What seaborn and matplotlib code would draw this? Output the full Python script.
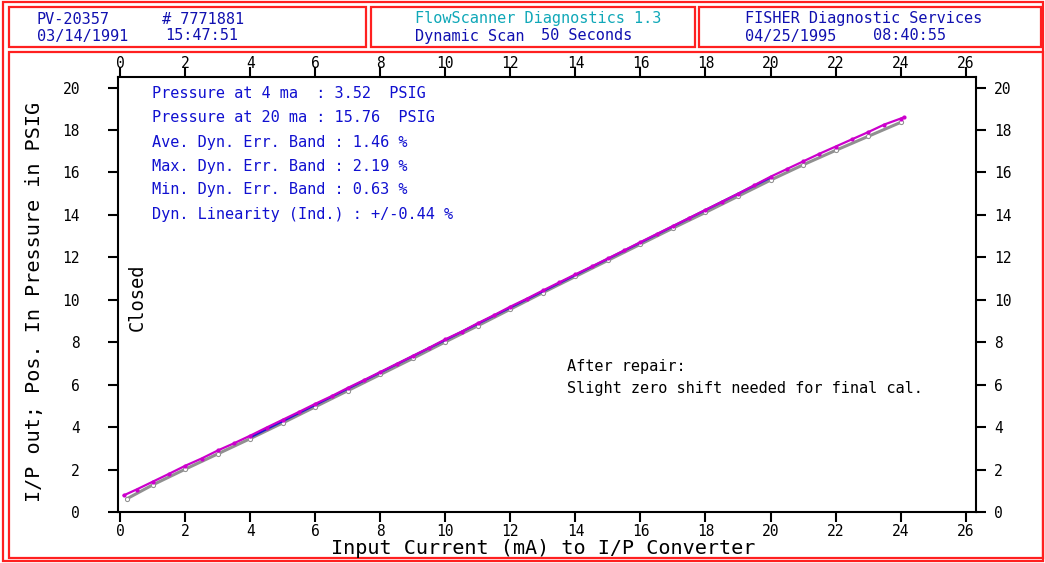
import matplotlib
matplotlib.use("Agg")
import matplotlib.pyplot as plt
import seaborn as sns
import pandas as pd
from matplotlib.patches import Rectangle
from matplotlib.transforms import ScaledTranslation

# increasing scan (magenta)
up_ma = [0.1, 0.5, 1.0, 1.5, 2.0, 2.5, 3.0, 3.5, 4.0, 4.5, 5.0, 5.5, 6.0, 6.5, 7.0, 7.5,
         8.0, 8.5, 9.0, 9.5, 10.0, 10.5, 11.0, 11.5, 12.0, 12.5, 13.0, 13.5, 14.0, 14.5,
         15.0, 15.5, 16.0, 16.5, 17.0, 17.5, 18.0, 18.5, 19.0, 19.5, 20.0, 20.5, 21.0,
         21.5, 22.0, 22.5, 23.0, 23.5, 24.0, 24.1]
up_psi = [0.78, 1.06, 1.43, 1.80, 2.18, 2.52, 2.90, 3.24, 3.60, 3.98, 4.35, 4.72, 5.10,
          5.46, 5.85, 6.22, 6.60, 6.98, 7.36, 7.74, 8.14, 8.50, 8.90, 9.28, 9.68, 10.05,
          10.44, 10.82, 11.20, 11.57, 11.95, 12.33, 12.72, 13.10, 13.48, 13.86, 14.24,
          14.62, 15.00, 15.40, 15.80, 16.16, 16.52, 16.88, 17.22, 17.56, 17.90, 18.26,
          18.54, 18.60]

# decreasing scan (gray)
down_ma = [0.2, 1.0, 2.0, 3.0, 4.0, 5.0, 6.0, 7.0, 8.0, 9.0, 10.0, 11.0, 12.0, 13.0,
           14.0, 15.0, 16.0, 17.0, 18.0, 19.0, 20.0, 21.0, 22.0, 23.0, 24.0]
down_psi = [0.62, 1.28, 2.02, 2.74, 3.46, 4.20, 4.96, 5.72, 6.48, 7.24, 8.02, 8.78, 9.56,
            10.34, 11.10, 11.86, 12.62, 13.38, 14.12, 14.88, 15.64, 16.36, 17.04, 17.70,
            18.36]

# calibration line 4-20 mA (blue)
cal_ma = [4.0, 20.0]
cal_psi = [3.52, 15.76]

stats = ["Pressure at 4 ma  : 3.52  PSIG",
         "Pressure at 20 ma : 15.76  PSIG",
         "Ave. Dyn. Err. Band : 1.46 %",
         "Max. Dyn. Err. Band : 2.19 %",
         "Min. Dyn. Err. Band : 0.63 %",
         "Dyn. Linearity (Ind.) : +/-0.44 %"]

sns.set_style("ticks")
plt.rcParams['font.family'] = ['DejaVu Sans Mono', 'DejaVu Sans']
plt.rcParams['text.color'] = 'black'

W, H = 1045, 563
fig = plt.figure(figsize=(W / 100, H / 100), dpi=100)

def px(x, y):
    return x / W, 1 - y / H

# red frames
for (x0, y0, x1, y1) in [(3, 2, 1043, 561), (9, 7, 366, 47), (371, 7, 695, 47),
                         (699, 7, 1041, 47), (9, 52, 1043, 558)]:
    fig.patches.append(Rectangle((x0 / W, 1 - y1 / H), (x1 - x0) / W, (y1 - y0) / H,
                                 transform=fig.transFigure, fill=False,
                                 edgecolor="#ff2020", linewidth=1.6))

# header text
hblue = "#1010b0"
hdr = [(37, 19, "PV-20357", hblue), (162, 19, "# 7771881", hblue),
       (37, 36, "03/14/1991", hblue), (165, 36, "15:47:51", hblue),
       (415, 19, "FlowScanner Diagnostics 1.3", "#10a8b8"),
       (415, 36, "Dynamic Scan", hblue), (541, 36, "50 Seconds", hblue),
       (745, 19, "FISHER Diagnostic Services", hblue),
       (745, 36, "04/25/1995", hblue), (873, 36, "08:40:55", hblue)]
for x, y, s, c in hdr:
    fig.text(*px(x, y), s, color=c, fontsize=11, ha="left", va="center")

ax = fig.add_axes([118 / W, 1 - 512 / H, (976 - 118) / W, (512 - 77) / H])

df_up = pd.DataFrame({"ma": up_ma, "psi": up_psi})
df_down = pd.DataFrame({"ma": down_ma, "psi": down_psi})
df_cal = pd.DataFrame({"ma": cal_ma, "psi": cal_psi})

sns.lineplot(data=df_down, x="ma", y="psi", ax=ax, color="#909090", linewidth=2.2,
             marker="o", markersize=3, markerfacecolor="white", markeredgecolor="#909090")
sns.lineplot(data=df_cal, x="ma", y="psi", ax=ax, color="#1a1ad0", linewidth=1.6)
sns.lineplot(data=df_up, x="ma", y="psi", ax=ax, color="#cc00cc", linewidth=1.6,
             marker="o", markersize=3, markeredgewidth=0)

ax.set_xlim(-0.07, 26.32)
ax.set_ylim(0, 20.5)
ax.set_xticks(range(0, 27, 2))
ax.set_yticks(range(0, 21, 2))
ax.tick_params(direction="out", length=7, width=1.5, labelsize=10.5, colors="black",
               left=True, bottom=True, top=True, right=True,
               labeltop=True, labelright=True)
ax.xaxis.set_tick_params(pad=2)
ax.yaxis.set_tick_params(pad=6)
for sp in ax.spines.values():
    sp.set_visible(True)
    sp.set_linewidth(1.5)
    sp.set_color("black")
ax.set_xlabel("")
ax.set_ylabel("")

# left tick labels sit far from the ticks, top labels close to them
off_left = ScaledTranslation(-20 / 100, 0, fig.dpi_scale_trans)
off_top = ScaledTranslation(0, -7 / 100, fig.dpi_scale_trans)
for t in ax.yaxis.get_major_ticks():
    t.label1.set_transform(t.label1.get_transform() + off_left)
for t in ax.xaxis.get_major_ticks():
    t.label2.set_transform(t.label2.get_transform() + off_top)

fig.text(*px(543, 549), "Input Current (mA) to I/P Converter", fontsize=14.5,
         ha="center", va="center")
fig.text(*px(35, 302), "I/P out; Pos. In Pressure in PSIG", fontsize=14.5,
         ha="center", va="center", rotation=90)
fig.text(*px(137, 297), "Closed", fontsize=13.5, ha="center", va="center", rotation=90)

for i, s in enumerate(stats):
    fig.text(*px(152, 94 + 24 * i), s, color="#1010d0", fontsize=11, ha="left", va="center")

fig.text(*px(567, 367), "After repair:", fontsize=11, ha="left", va="center")
fig.text(*px(567, 389), "Slight zero shift needed for final cal.", fontsize=11,
         ha="left", va="center")

fig.savefig("out.png", dpi=100)
